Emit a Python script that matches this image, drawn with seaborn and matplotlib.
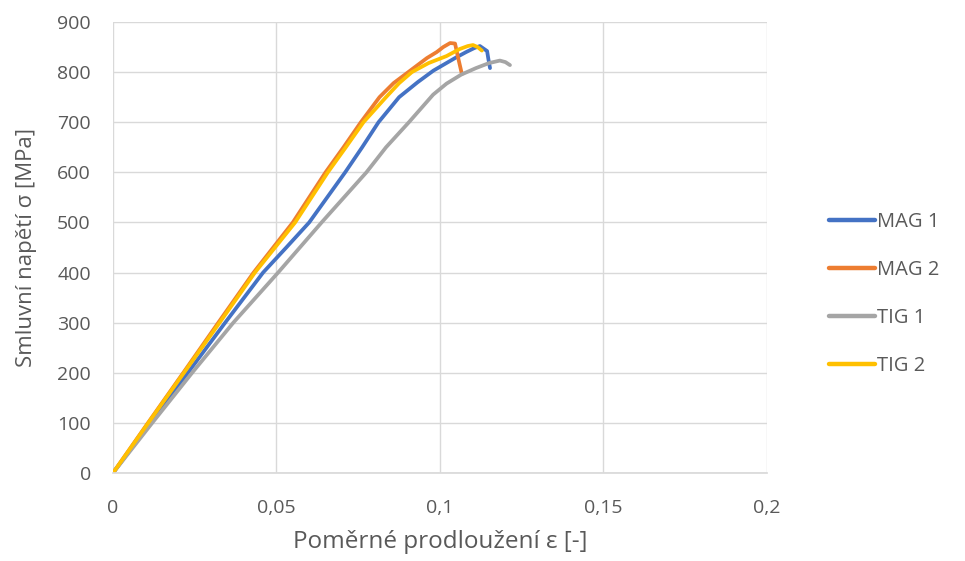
import pandas as pd
import matplotlib.pyplot as plt
import seaborn as sns
from matplotlib.ticker import FuncFormatter

# strain [-] / stress [MPa]
mag1_x = [0, 0.0114, 0.0229, 0.0343, 0.0459, 0.053, 0.060, 0.071, 0.0762, 0.0812, 0.0875, 0.0932, 0.098, 0.1046, 0.108, 0.1105, 0.1122, 0.1144, 0.1148, 0.1153]
mag1_y = [0, 100, 200, 300, 400, 450, 500, 600, 650, 700, 750, 780, 803, 828, 840, 848, 852, 842, 826, 808]

mag2_x = [0, 0.0107, 0.0215, 0.0322, 0.043, 0.055, 0.065, 0.0705, 0.0758, 0.0815, 0.0858, 0.0903, 0.096, 0.099, 0.101, 0.1031, 0.1046, 0.1055, 0.1067]
mag2_y = [0, 100, 200, 300, 400, 500, 600, 650, 700, 750, 778, 800, 828, 840, 850, 858, 857, 830, 796]

tig1_x = [0, 0.0120, 0.0242, 0.0368, 0.0505, 0.0638, 0.0775, 0.0835, 0.0905, 0.0979, 0.102, 0.1065, 0.111, 0.115, 0.1183, 0.120, 0.1214]
tig1_y = [0, 100, 200, 300, 400, 500, 600, 650, 700, 755, 777, 795, 808, 818, 823, 820, 814]

tig2_x = [0, 0.0108, 0.0217, 0.0326, 0.0434, 0.0557, 0.0657, 0.0712, 0.0766, 0.0835, 0.0875, 0.0914, 0.0965, 0.102, 0.106, 0.1085, 0.1101, 0.1115, 0.1128]
tig2_y = [0, 100, 200, 300, 400, 500, 600, 650, 700, 750, 778, 800, 818, 832, 846, 852, 854, 850, 843]

series = ["MAG 1", "MAG 2", "TIG 1", "TIG 2"]
colors = ["#4472C4", "#ED7D31", "#A5A5A5", "#FFC000"]

frames = []
for name, xs, ys in zip(series, [mag1_x, mag2_x, tig1_x, tig2_x], [mag1_y, mag2_y, tig1_y, tig2_y]):
    frames.append(pd.DataFrame({"strain": xs, "stress": ys, "vzorek": name}))
df = pd.concat(frames, ignore_index=True)

sns.set_theme(style="white")
plt.rcParams['font.family'] = ['Open Sans', 'DejaVu Sans']

fig = plt.figure(figsize=(9.65, 5.61), dpi=100)
ax = fig.add_axes([0.1171, 0.1569, 0.6777, 0.8039])

sns.lineplot(data=df, x="strain", y="stress", hue="vzorek", palette=colors,
             sort=False, estimator=None, linewidth=2.7, ax=ax)

ax.set_xlim(0, 0.2)
ax.set_ylim(0, 900)
ax.set_xticks([0, 0.05, 0.1, 0.15, 0.2])
ax.set_yticks(range(0, 901, 100))
ax.xaxis.set_major_formatter(FuncFormatter(lambda v, p: ("%g" % round(v, 3)).replace(".", ",")))
ax.grid(True, color="#d9d9d9", linewidth=1)
ax.set_axisbelow(True)
for side in ["top", "right", "left"]:
    ax.spines[side].set_visible(False)
ax.spines["bottom"].set_color("#d9d9d9")
ax.tick_params(axis="both", length=0, labelsize=14, colors="#595959")
ax.tick_params(axis="x", pad=19)
ax.tick_params(axis="y", pad=16)

ax.set_xlabel("Poměrné prodloužení ε [-]", fontsize=17.5, color="#595959")
ax.set_ylabel("Smluvní napětí σ [MPa]", fontsize=16, color="#595959")
ax.xaxis.set_label_coords(0.5, (473 - 542) / 451)
ax.xaxis.label.set_verticalalignment("center")
ax.yaxis.set_label_coords((26 - 113) / 654, 0.5)
ax.yaxis.label.set_verticalalignment("center")

# legend at the right, outside the plot area
leg = ax.legend(loc="center left", bbox_to_anchor=(819 / 965, 1 - 294 / 561),
                bbox_transform=fig.transFigure, frameon=False, borderpad=0,
                fontsize=14.5, labelspacing=1.4, handlelength=2.3, handletextpad=0.1)
for t in leg.get_texts():
    t.set_color("#595959")
for h in leg.get_lines():
    h.set_linewidth(3.2)

fig.savefig("out.png", dpi=100)
